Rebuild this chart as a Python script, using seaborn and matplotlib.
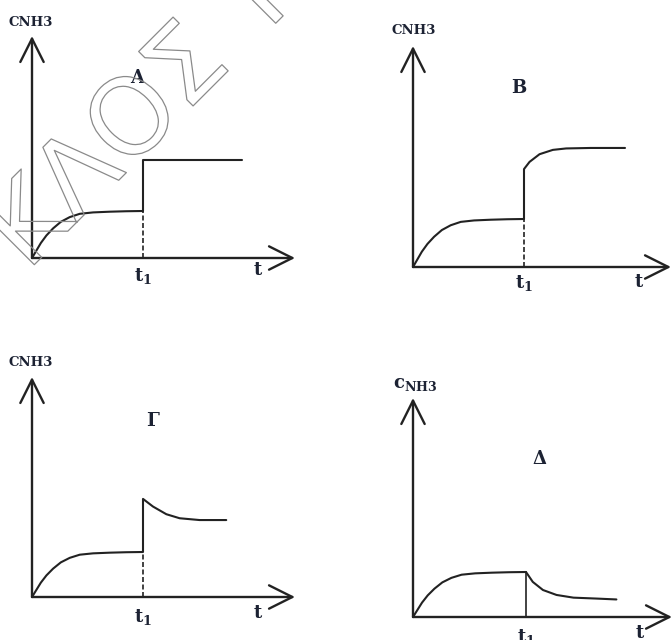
import matplotlib
matplotlib.use("Agg")
import matplotlib.pyplot as plt
import matplotlib.patheffects as pe
import seaborn as sns

# ─── Data (t in units of t1, c in units of the first plateau) ───────────
RISE_T = [0, 0.04, 0.08, 0.13, 0.19, 0.26, 0.34, 0.43, 0.55, 0.7, 0.85, 1.0]
RISE_C = [0, 0.16, 0.32, 0.48, 0.63, 0.77, 0.87, 0.94, 0.97, 0.985, 0.995, 1.0]

T1 = 1.0
PLATEAU = 1.0

A_AFTER_T = [1.0, 1.89]
A_AFTER_C = [2.09, 2.09]

B_AFTER_T = [1.0, 1.05, 1.14, 1.26, 1.38, 1.6, 1.91]
B_AFTER_C = [2.04, 2.19, 2.35, 2.44, 2.47, 2.48, 2.48]

G_AFTER_T = [1.0, 1.09, 1.21, 1.33, 1.51, 1.75]
G_AFTER_C = [2.18, 2.01, 1.84, 1.75, 1.71, 1.71]

D_AFTER_T = [1.0, 1.06, 1.15, 1.27, 1.42, 1.62, 1.80]
D_AFTER_C = [1.0, 0.78, 0.60, 0.49, 0.43, 0.41, 0.39]

PANEL_NAMES = ["A", "B", "Γ", "Δ"]
Y_LABELS = ["CNH3", "CNH3", "CNH3", r"$\mathbf{c}_{\mathbf{NH3}}$"]
T1_LABEL = r"$\mathbf{t_1}$"
T_LABEL = r"$\mathbf{t}$"
WATERMARK = "ΚΛΟΣ Τ"

# ─── Layout (pixels) ────────────────────────────────────
W, H = 672, 640
# origin x, origin y, axis width, axis height, px per t1, px per plateau
LAYOUT = [
    (32, 258, 263, 222, 111, 47),
    (413, 267, 258, 221, 111, 48),
    (32, 597, 263, 220, 111, 45),
    (413, 617, 259, 219, 113, 45),
]
# name pos (axes fraction), y-label offset/size, t1 label offset, t label pos
NAME_POS = [(0.40, 0.81), (0.41, 0.81), (0.46, 0.80), (0.49, 0.72)]
YLAB_OFF = [(-1, 14), (1, 16), (-1, 14), (2, 14)]
YLAB_SIZE = [9.5, 9.5, 9.5, 13]
T1_OFF = [-18, -16, -20, -20]
T_POS = [(0.86, -12), (0.876, -15), (0.86, -16), (0.876, -16)]

LINE = "#222222"
TEXT = "#1c2233"

sns.set_theme(style="white")
plt.rcParams["font.family"] = ["DejaVu Serif", "DejaVu Sans"]
plt.rcParams["mathtext.fontset"] = "dejavuserif"

fig = plt.figure(figsize=(W / 100, H / 100), dpi=100)
fig.patch.set_facecolor("white")

afters = [
    (A_AFTER_T, A_AFTER_C),
    (B_AFTER_T, B_AFTER_C),
    (G_AFTER_T, G_AFTER_C),
    (D_AFTER_T, D_AFTER_C),
]

for i, (ox, oy, w, h, pt, pc) in enumerate(LAYOUT):
    ax = fig.add_axes([ox / W, 1 - oy / H, w / W, h / H])
    ax.set_xlim(0, w / pt)
    ax.set_ylim(0, h / pc)
    ax.axis("off")

    after_t, after_c = afters[i]

    sns.lineplot(x=RISE_T, y=RISE_C, ax=ax, color=LINE, lw=1.5, clip_on=False)
    sns.lineplot(x=after_t, y=after_c, ax=ax, color=LINE, lw=1.5, clip_on=False)

    # jump at t1
    if after_c[0] != PLATEAU:
        ax.vlines(T1, PLATEAU, after_c[0], color=LINE, lw=1.5)
    # guide down to the time axis (solid in the last panel)
    style = "solid" if i == 3 else (0, (3, 1.5))
    ax.vlines(T1, 0, PLATEAU, color=LINE, lw=1.2, linestyles=style)

    arrow = dict(arrowstyle="->,head_length=1.4,head_width=0.7", lw=1.7,
                 color=LINE, shrinkA=0, shrinkB=0)
    ax.annotate("", xy=(1, 0), xytext=(0, 0), xycoords="axes fraction",
                arrowprops=arrow, annotation_clip=False)
    ax.annotate("", xy=(0, 1), xytext=(0, 0), xycoords="axes fraction",
                arrowprops=arrow, annotation_clip=False)

    ax.annotate(Y_LABELS[i], xy=(0, 1), xycoords="axes fraction",
                xytext=YLAB_OFF[i], textcoords="offset pixels",
                ha="center", va="center", fontsize=YLAB_SIZE[i],
                fontweight="bold", color=TEXT, annotation_clip=False)
    ax.text(*NAME_POS[i], PANEL_NAMES[i], transform=ax.transAxes,
            ha="center", va="center", fontsize=13, fontweight="bold", color=TEXT)
    ax.annotate(T1_LABEL, xy=(T1, 0), xycoords="data",
                xytext=(0, T1_OFF[i]), textcoords="offset pixels",
                ha="center", va="center", fontsize=13, color=TEXT,
                annotation_clip=False)
    ax.annotate(T_LABEL, xy=(T_POS[i][0], 0), xycoords="axes fraction",
                xytext=(0, T_POS[i][1]), textcoords="offset pixels",
                ha="center", va="center", fontsize=13, color=TEXT,
                annotation_clip=False)

# outlined watermark over the first panel
fig.text(27 / W, 1 - 272 / H, WATERMARK, rotation=45, rotation_mode="anchor",
         ha="left", va="baseline", fontsize=76, family="DejaVu Sans",
         color="none", zorder=10,
         path_effects=[pe.Stroke(linewidth=0.9, foreground="#8a8a8a")])

fig.savefig("out.png", dpi=100, facecolor="white")
